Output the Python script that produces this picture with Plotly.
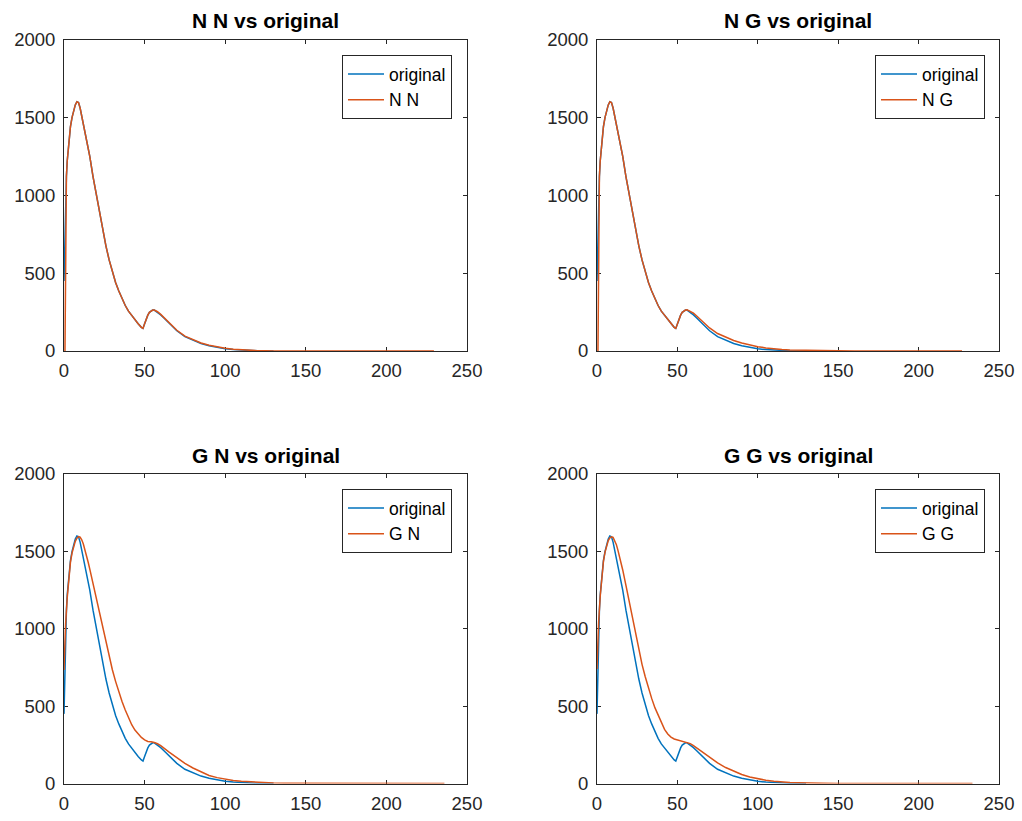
import plotly.graph_objects as go

# ---------------- data ----------------
orig_x = [0, 0.5, 1, 1.5, 2, 3, 4, 5, 6, 7, 8, 9, 10, 11, 12, 14, 16, 18, 20, 22, 24, 26, 28, 30,
          32, 34, 36, 38, 40, 42, 44, 46, 48, 49, 50, 51, 52, 53, 54, 55, 56, 58, 60, 62, 65, 68,
          70, 75, 80, 85, 90, 95, 100, 105, 110, 115, 120, 125, 130]
orig_y = [450, 750, 1000, 1120, 1220, 1350, 1440, 1500, 1545, 1580, 1600, 1595, 1560, 1510, 1450,
          1340, 1250, 1120, 1005, 890, 780, 675, 585, 505, 440, 385, 335, 292, 256, 228, 200, 175,
          152, 145, 175, 205, 230, 248, 258, 263, 263, 250, 232, 212, 180, 150, 130, 92, 68, 48, 34,
          23, 15, 9, 5, 3, 1.5, 0.5, 0]

nn_x = [0.6, 1, 1.5, 2, 3, 4, 5, 6, 7, 8, 9, 10, 11, 12, 14, 16, 18, 20, 22, 24, 26, 28, 30,
        32, 34, 36, 38, 40, 42, 44, 46, 48, 49, 50, 51, 52, 53, 54, 55, 56, 58, 60, 62, 65, 68,
        70, 75, 80, 85, 90, 95, 100, 105, 110, 115, 120, 125, 130, 229.5]
nn_y = [0, 1000, 1120, 1220, 1350, 1440, 1500, 1545, 1580, 1600, 1595, 1560, 1510, 1450,
        1340, 1250, 1120, 1005, 890, 780, 675, 585, 505, 440, 385, 335, 292, 256, 228, 200, 175,
        152, 145, 175, 205, 230, 248, 258, 263, 263, 252, 235, 215, 183, 153, 133, 95, 71, 51, 37,
        26, 18, 11, 7, 4, 2, 1, 0, 0]

ng_x = [0.6, 1, 1.5, 2, 3, 4, 5, 6, 7, 8, 9, 10, 11, 12, 14, 16, 18, 20, 22, 24, 26, 28, 30,
        32, 34, 36, 38, 40, 42, 44, 46, 48, 49, 50, 51, 52, 53, 54, 55, 56, 58, 60, 62, 65, 68,
        70, 75, 80, 85, 90, 95, 100, 105, 110, 115, 120, 130, 140, 150, 160, 170, 227]
ng_y = [0, 1000, 1120, 1220, 1350, 1440, 1500, 1545, 1580, 1600, 1595, 1560, 1510, 1450,
        1340, 1250, 1120, 1005, 890, 780, 675, 585, 505, 440, 385, 335, 292, 256, 228, 200, 175,
        152, 145, 175, 205, 230, 248, 258, 263, 265, 256, 243, 225, 196, 168, 148, 112, 88, 67,
        51, 38, 28, 20, 14, 10, 7, 4, 2, 1, 0.5, 0, 0]

gn_x = [0, 0.5, 1, 2, 3, 4, 5, 6, 7, 8, 9, 10, 11, 12, 13, 14, 15, 16, 18, 20, 22, 24, 26, 28,
        30, 32, 34, 36, 38, 40, 42, 44, 46, 48, 50, 51, 52, 54, 55, 56, 58, 60, 65, 70, 75, 80,
        85, 90, 95, 100, 105, 110, 115, 120, 125, 130, 140, 150, 160, 236]
gn_y = [734, 900, 1030, 1200, 1330, 1430, 1490, 1535, 1565, 1585, 1595, 1592, 1575, 1548, 1512,
        1472, 1430, 1385, 1290, 1195, 1100, 1000, 905, 815, 735, 660, 590, 530, 475, 425, 380,
        345, 318, 298, 282, 275, 272, 270, 268, 265, 257, 245, 205, 165, 130, 100, 76, 52, 38,
        28, 20, 15, 11, 8, 5, 3, 1, 0.5, 0, 0]

gg_x = [0, 0.5, 1, 2, 3, 4, 5, 6, 7, 8, 9, 10, 11, 12, 13, 14, 15, 16, 18, 20, 22, 24, 26, 28,
        30, 32, 34, 36, 38, 40, 42, 44, 46, 48, 50, 51, 52, 54, 56, 58, 60, 65, 70, 75, 80, 85,
        90, 95, 100, 105, 110, 115, 120, 125, 130, 140, 150, 160, 233.5]
gg_y = [740, 900, 1040, 1210, 1340, 1435, 1495, 1540, 1570, 1588, 1594, 1590, 1572, 1545, 1508,
        1470, 1430, 1380, 1280, 1180, 1060, 960, 865, 770, 690, 615, 550, 490, 440, 390, 350,
        320, 300, 288, 282, 283, 281, 275, 268, 258, 245, 208, 170, 133, 103, 78, 58, 42, 30,
        21, 15, 10, 7, 5, 3, 1, 0.5, 0, 0]

titles = ["N N vs original", "N G vs original", "G N vs original", "G G vs original"]
labels = ["N N", "N G", "G N", "G G"]
x_ticks = [0, 50, 100, 150, 200, 250]
y_ticks = [0, 500, 1000, 1500, 2000]

# ---------------- styling ----------------
BLUE = "#0072BD"
ORANGE = "#D95319"
AX = "#262626"
FONT = "Liberation Sans"
W, H = 1022, 821

xdom = [[64 / W, 467 / W], [597 / W, 999 / W]]
ydom = [[1 - 351 / H, 1 - 39.5 / H], [1 - 783.5 / H, 1 - 474 / H]]

series = [(nn_x, nn_y), (ng_x, ng_y), (gn_x, gn_y), (gg_x, gg_y)]

fig = go.Figure()
layout = dict(
    width=W, height=H,
    margin=dict(l=0, r=0, t=0, b=0, autoexpand=False),
    paper_bgcolor="white", plot_bgcolor="white",
    font=dict(family=FONT, color=AX, size=18.5),
    annotations=[],
)

for i in range(4):
    r, c = divmod(i, 2)
    suffix = "" if i == 0 else str(i + 1)
    xa, ya = "x" + suffix, "y" + suffix
    leg = "legend" + suffix
    sx, sy = series[i]
    fig.add_trace(go.Scatter(x=orig_x, y=orig_y, mode="lines", name="original",
                             line=dict(color=BLUE, width=1.5), xaxis=xa, yaxis=ya, legend=leg))
    fig.add_trace(go.Scatter(x=sx, y=sy, mode="lines", name=labels[i],
                             line=dict(color=ORANGE, width=1.5), xaxis=xa, yaxis=ya, legend=leg))
    axis_common = dict(showline=True, linecolor=AX, linewidth=1, mirror="ticks",
                       ticks="inside", ticklen=4, tickcolor=AX, tickwidth=1,
                       showgrid=False, zeroline=False, layer="below traces", automargin=False,
                       tickfont=dict(family=FONT, size=18.5, color=AX))
    layout["xaxis" + suffix] = dict(domain=xdom[c], range=[0, 250], tickvals=x_ticks,
                                    anchor=ya, ticklabelstandoff=3, **axis_common)
    layout["yaxis" + suffix] = dict(domain=ydom[r], range=[0, 2000], tickvals=y_ticks,
                                    anchor=xa, ticklabelstandoff=4, **axis_common)
    right = [452, 985][c]
    top = [55, 489][r]
    layout[leg] = dict(x=right / W, xanchor="right", y=1 - top / H, yanchor="top",
                       bordercolor=AX, borderwidth=1, bgcolor="white",
                       font=dict(family=FONT, size=17.5, color="black"),
                       itemwidth=36, tracegroupgap=0)
    cx = (xdom[c][0] + xdom[c][1]) / 2
    ty = [20, 455][r]
    layout["annotations"].append(dict(text="<b>" + titles[i] + "</b>", x=cx, y=1 - ty / H,
                                      xref="paper", yref="paper", xanchor="center",
                                      yanchor="middle", showarrow=False,
                                      font=dict(family=FONT, size=21, color="black")))

fig.update_layout(**layout)
fig.write_html("out.html")
